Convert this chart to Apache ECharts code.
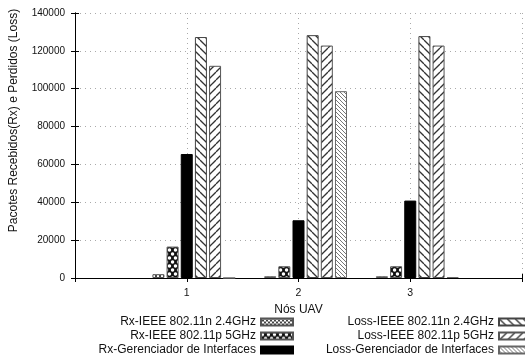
<!DOCTYPE html>
<html><head><meta charset="utf-8">
<script src="https://cdn.jsdelivr.net/npm/echarts@6/dist/echarts.min.js"></script>
<style>html,body{margin:0;padding:0;background:#fff}#c{width:525px;height:360px}</style>
</head><body><div id="c"></div>
<script>
// ---- data ----
const categories = [1, 2, 3];
const categoryLabels = ['1', '2', '3'];
const seriesNames = [
  'Rx-IEEE 802.11n 2.4GHz',
  'Rx-IEEE 802.11p 5GHz',
  'Rx-Gerenciador de Interfaces',
  'Loss-IEEE 802.11n 2.4GHz',
  'Loss-IEEE 802.11p 5GHz',
  'Loss-Gerenciador de Interfaces'
];
const rx24 = [2000, 900, 900];
const rx5 = [16600, 6200, 6200];
const rxGer = [65500, 30500, 40900];
const loss24 = [127300, 128300, 127800];
const loss5 = [112100, 122800, 122800];
const lossGer = [0, 98700, 500];
const yMin = 0, yMax = 140000, yStep = 20000;
const xMin = 0, xMax = 4;
const axisTitleX = 'Nós UAV';
const axisTitleY = 'Pacotes Recebidos(Rx) e Perdidos (Loss)';

// ---- patterns ----
function tile(w, h, draw) {
  const c = document.createElement('canvas');
  c.width = w; c.height = h;
  const g = c.getContext('2d');
  g.fillStyle = '#fff'; g.fillRect(0, 0, w, h);
  draw(g, w, h);
  return { image: c, repeat: 'repeat' };
}
function diag(g, w, h, dir, color, lw) {
  g.strokeStyle = color; g.lineWidth = lw;
  for (let k = -1; k <= 1; k++) {
    g.beginPath();
    if (dir > 0) { g.moveTo(k * w, 0); g.lineTo(k * w + w, h); }
    else { g.moveTo(k * w + w, 0); g.lineTo(k * w, h); }
    g.stroke();
  }
}
const pRx24 = tile(4, 4, (g, w, h) => { diag(g, w, h, 1, '#444', 1); diag(g, w, h, -1, '#444', 1); });
const pRx5 = tile(6, 8, (g) => {
  g.fillStyle = '#111'; g.fillRect(0, 0, 6, 8);
  g.fillStyle = '#fff';
  [[1.5, 2], [4.5, 6], [7.5, 2], [-1.5, 6]].forEach(p => { g.beginPath(); g.arc(p[0], p[1], 1.7, 0, Math.PI * 2); g.fill(); });
});
const pLoss24 = tile(8, 8, (g, w, h) => diag(g, w, h, 1, '#333', 1.3));
const pLoss5 = tile(8, 8, (g, w, h) => diag(g, w, h, -1, '#333', 1.3));
const pLossGer = tile(4, 4, (g, w, h) => diag(g, w, h, 1, '#777', 1));

const fills = [pRx24, pRx5, '#000', pLoss24, pLoss5, pLossGer];
const borders = ['#555', '#555', '#000', '#444', '#555', '#666'];
const values = [rx24, rx5, rxGer, loss24, loss5, lossGer];

const FONT = 'Liberation Sans';
const series = [{
  name: '_pad', type: 'bar', data: [], barWidth: 12, barGap: '18%', silent: true
}].concat(seriesNames.map((n, i) => ({
  name: n, type: 'bar', barWidth: 12, barGap: '18%',
  data: categories.map((c, j) => [c, values[i][j]]),
  itemStyle: { color: fills[i], borderColor: borders[i], borderWidth: 1 }
})));

// legend positions (two columns, right aligned)
const legendRight = [231, 231, 231, -7, -7, -7];
const legendRowCenter = [323, 337, 351, 323, 337, 351];
const legends = seriesNames.map((n, i) => ({
  data: [n], orient: 'vertical', align: 'right', right: legendRight[i],
  top: legendRowCenter[i] - 7, padding: 0, itemWidth: 32, itemHeight: 7, icon: 'rect',
  selectedMode: false,
  textStyle: { fontFamily: FONT, fontSize: 12, color: '#111' }
}));

const chart = echarts.init(document.getElementById('c'), null, { renderer: 'canvas' });
chart.setOption({
  animation: false,
  backgroundColor: '#fff',
  legend: legends,
  grid: { left: 73, top: 13, width: 456, height: 265, show: false },
  xAxis: [{
    type: 'value', min: xMin, max: xMax, interval: 1,
    name: axisTitleX, nameLocation: 'middle', nameGap: 25,
    nameTextStyle: { fontFamily: FONT, fontSize: 12, color: '#111' },
    axisLine: { show: true, lineStyle: { color: '#000', width: 1 } },
    axisTick: { show: true, inside: true, length: 4, lineStyle: { color: '#000' } },
    axisLabel: { margin: 10, fontFamily: FONT, fontSize: 10.5, color: '#111',
      formatter: v => { const k = categories.indexOf(v); return k >= 0 ? categoryLabels[k] : ''; } },
    splitLine: { show: true, lineStyle: { color: '#aaa', type: [1, 4], width: 1 } }
  }, {
    type: 'value', position: 'top', min: xMin, max: xMax, interval: 1,
    axisLine: { show: true, lineStyle: { color: '#000', width: 1 } },
    axisTick: { show: true, inside: true, length: 4, lineStyle: { color: '#000' } },
    axisLabel: { show: false }, splitLine: { show: false }
  }],
  yAxis: [{
    type: 'value', min: yMin, max: yMax, interval: yStep,
    name: axisTitleY, nameLocation: 'middle', nameGap: 55, nameRotate: 90,
    nameTextStyle: { fontFamily: FONT, fontSize: 12, color: '#111', padding: [0, 0, 0, 50] },
    axisLine: { show: true, lineStyle: { color: '#000', width: 1 } },
    axisTick: { show: true, inside: true, length: 4, lineStyle: { color: '#000' } },
    axisLabel: { margin: 10, fontFamily: FONT, fontSize: 10, color: '#111', formatter: v => String(v) },
    splitLine: { show: true, lineStyle: { color: '#aaa', type: [1, 4], width: 1 } }
  }, {
    type: 'value', position: 'right', min: yMin, max: yMax, interval: yStep,
    axisLine: { show: true, lineStyle: { color: '#000', width: 1 } },
    axisTick: { show: true, inside: true, length: 4, lineStyle: { color: '#000' } },
    axisLabel: { show: false }, splitLine: { show: false }
  }],
  series: series
});
</script></body></html>
